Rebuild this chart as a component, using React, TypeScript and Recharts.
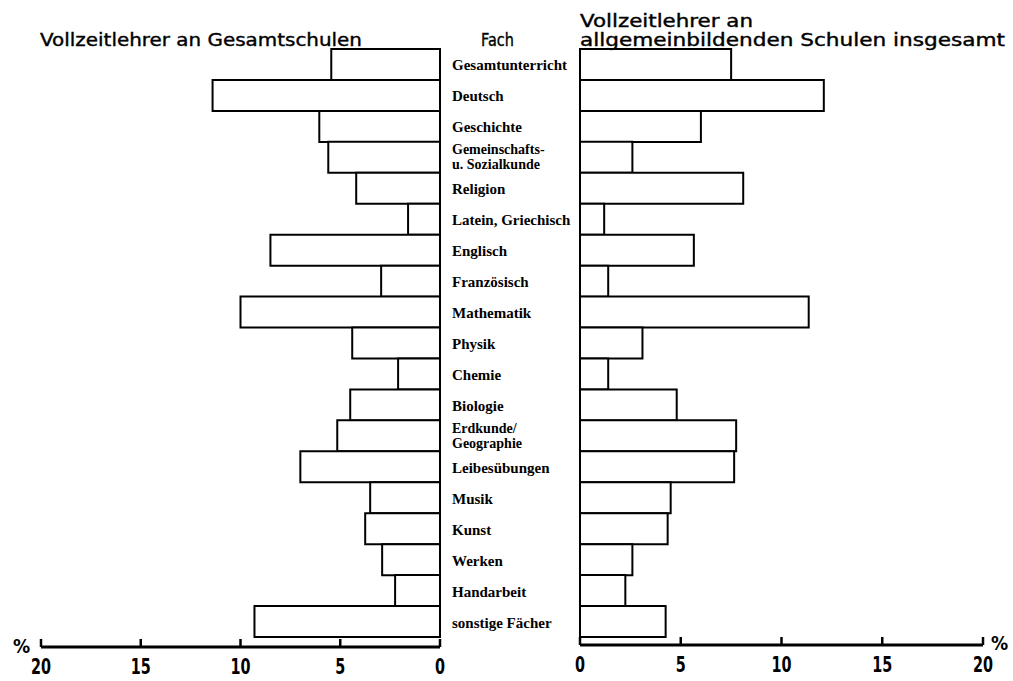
import { Bar, BarChart, XAxis, YAxis } from "recharts";

// Fächer von oben nach unten
const faecher = [
  "Gesamtunterricht",
  "Deutsch",
  "Geschichte",
  "Gemeinschafts-\nu. Sozialkunde",
  "Religion",
  "Latein, Griechisch",
  "Englisch",
  "Französisch",
  "Mathematik",
  "Physik",
  "Chemie",
  "Biologie",
  "Erdkunde/\nGeographie",
  "Leibesübungen",
  "Musik",
  "Kunst",
  "Werken",
  "Handarbeit",
  "sonstige Fächer",
];

// Anteile in %
const gesamtschulen = [5.45, 11.4, 6.05, 5.6, 4.2, 1.6, 8.5, 2.95, 10.0, 4.4, 2.1, 4.5, 5.15, 7.0, 3.5, 3.75, 2.9, 2.25, 9.3];
const allgemein = [7.5, 12.1, 6.0, 2.6, 8.1, 1.2, 5.65, 1.4, 11.35, 3.1, 1.4, 4.8, 7.75, 7.65, 4.5, 4.35, 2.6, 2.25, 4.25];

const ticks = [0, 5, 10, 15, 20];

const leftData = faecher.map((fach, i) => ({ fach, v: gesamtschulen[i] }));
const rightData = faecher.map((fach, i) => ({ fach, v: allgemein[i] }));

const plotterFont = "'DejaVu Sans', sans-serif";
const digitFont = "'DejaVu Sans Condensed', 'DejaVu Sans', sans-serif";
const labelFont = "'Liberation Serif', 'DejaVu Serif', serif";

function AxisTick(props: any) {
  const { x, y, payload } = props;
  const s = String(payload.value);
  return (
    <g>
      <line x1={x} x2={x} y1={y} y2={y - 8} stroke="#000" strokeWidth={2.5} />
      <text
        x={x}
        y={y + 27}
        textAnchor="middle"
        fontFamily={digitFont}
        fontWeight="bold"
        fontSize={22}
        fill="#000"
        textLength={s.length * 10}
        lengthAdjust="spacingAndGlyphs"
      >
        {s}
      </text>
    </g>
  );
}

function FachTick(props: any) {
  const { y, payload } = props;
  const lines = String(payload.value).split("\n");
  const common = { x: 12, fontFamily: labelFont, fontWeight: "bold", fill: "#000" };
  if (lines.length === 1) {
    return <text {...common} fontSize={15} y={y + 6}>{lines[0]}</text>;
  }
  return (
    <text {...common} fontSize={14} y={y - 3}>
      <tspan x={12}>{lines[0]}</tspan>
      <tspan x={12} dy={15}>{lines[1]}</tspan>
    </text>
  );
}

export default function App() {
  return (
    <div style={{ position: "absolute", left: 0, top: 0, width: 1013, height: 681, background: "#fff" }}>
      <div style={{ position: "absolute", left: 0, top: 0 }}>
        <BarChart
          width={456}
          height={681}
          layout="vertical"
          data={leftData}
          barCategoryGap={0}
          margin={{ top: 49, right: 16, left: 41, bottom: 4 }}
        >
          <XAxis
            type="number"
            domain={[0, 20]}
            ticks={ticks}
            reversed
            height={30}
            axisLine={{ stroke: "#000", strokeWidth: 3 }}
            tickLine={false}
            tickSize={0}
            tickMargin={0}
            tick={<AxisTick />}
            interval={0}
          />
          <YAxis type="category" dataKey="fach" hide padding={{ top: 0, bottom: 10 }} />
          <Bar dataKey="v" fill="#fff" stroke="#000" strokeWidth={2} isAnimationActive={false} />
        </BarChart>
      </div>
      <div style={{ position: "absolute", left: 440, top: 0 }}>
        <BarChart
          width={573}
          height={681}
          layout="vertical"
          data={rightData}
          barCategoryGap={0}
          margin={{ top: 49, right: 30, left: 0, bottom: 6 }}
        >
          <XAxis
            type="number"
            domain={[0, 20]}
            ticks={ticks}
            height={30}
            axisLine={{ stroke: "#000", strokeWidth: 3 }}
            tickLine={false}
            tickSize={0}
            tickMargin={0}
            tick={<AxisTick />}
            interval={0}
          />
          <YAxis
            type="category"
            dataKey="fach"
            width={140}
            axisLine={false}
            tickLine={false}
            tick={<FachTick />}
            interval={0}
            padding={{ top: 0, bottom: 8 }}
          />
          <Bar dataKey="v" fill="#fff" stroke="#000" strokeWidth={2} isAnimationActive={false} />
        </BarChart>
      </div>
      <svg width={1013} height={681} style={{ position: "absolute", left: 0, top: 0, pointerEvents: "none" }}>
        <g fontFamily={plotterFont} fontSize={18} fill="#000" stroke="#000" strokeWidth={0.4}>
          <text x={40} y={46} textLength={322} lengthAdjust="spacingAndGlyphs">
            Vollzeitlehrer an Gesamtschulen
          </text>
          <text x={481} y={46} textLength={33} lengthAdjust="spacingAndGlyphs">
            Fach
          </text>
          <text y={27}>
            <tspan x={580} textLength={173} lengthAdjust="spacingAndGlyphs">Vollzeitlehrer an</tspan>
            <tspan x={580} dy={19} textLength={425} lengthAdjust="spacingAndGlyphs">
              allgemeinbildenden Schulen insgesamt
            </tspan>
          </text>
        </g>
        <text x={13} y={653} fontFamily={digitFont} fontWeight="bold" fontSize={19} fill="#000">%</text>
        <text x={991} y={650} fontFamily={digitFont} fontWeight="bold" fontSize={19} fill="#000">%</text>
      </svg>
    </div>
  );
}
